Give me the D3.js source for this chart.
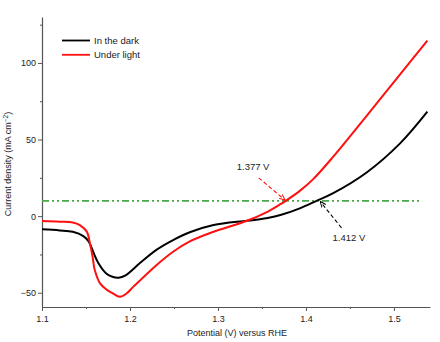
<!DOCTYPE html>
<html>
<head>
<meta charset="utf-8">
<script src="https://cdn.jsdelivr.net/npm/d3@7"></script>
<style>
  html, body { margin: 0; padding: 0; background: #fff; }
  svg text { font-family: "Liberation Sans", Arial, Helvetica, sans-serif; fill: #222; }
</style>
</head>
<body>
<svg id="chart" width="440" height="342"></svg>
<script>
// Linear sweep voltammetry: potential (V vs RHE) and current density (mA cm^-2)
const darkPotential = [1.100, 1.120, 1.135, 1.147, 1.153, 1.158, 1.164, 1.173, 1.180, 1.187, 1.195, 1.211, 1.230, 1.249, 1.268, 1.295, 1.333, 1.355, 1.371, 1.393, 1.412, 1.431, 1.469, 1.507, 1.538];
const darkCurrent   = [-8.6, -9.3, -10.2, -13.0, -16.5, -23.0, -30.6, -37.4, -39.6, -40.2, -38.6, -30.8, -22.0, -15.6, -10.5, -5.8, -3.0, -1.4, 0.7, 5.1, 10.0, 15.0, 28.5, 47.5, 68.2];

const lightPotential = [1.100, 1.120, 1.135, 1.143, 1.151, 1.1545, 1.1575, 1.160, 1.166, 1.173, 1.180, 1.1886, 1.196, 1.204, 1.230, 1.249, 1.268, 1.295, 1.333, 1.355, 1.371, 1.377, 1.393, 1.408, 1.431, 1.469, 1.507, 1.538];
const lightCurrent   = [-3.2, -3.6, -4.1, -5.8, -10.2, -17.8, -26.5, -35.2, -43.9, -47.8, -50.2, -52.6, -50.5, -46.0, -32.0, -23.2, -16.5, -10.2, -3.0, 2.5, 7.8, 10.0, 16.5, 24.0, 38.8, 65.5, 92.5, 114.6];

const seriesNames  = ["In the dark", "Under light"];
const seriesColors = ["#000000", "#ff1010"];

const referenceCurrent = 10;              // mA cm^-2 benchmark line
const onsetPotentials  = [1.412, 1.377];  // dark, light at 10 mA cm^-2

const xMajorTicks = [1.1, 1.2, 1.3, 1.4, 1.5];
const xMinorTicks = [1.15, 1.25, 1.35, 1.45];
const yMajorTicks = [-50, 0, 50, 100];
const yMinorTicks = [-25, 25, 75, 125];

const svg = d3.select("#chart");
const plot = { left: 42, right: 430, top: 17, bottom: 307 };

const x = d3.scaleLinear().domain([1.1, 1.541]).range([plot.left, plot.right]);
const y = d3.scaleLinear().domain([-59.3, 130]).range([plot.bottom, plot.top]);

const axisColor = "#555";

// X axis
const xAxis = svg.append("g").attr("transform", `translate(0,${plot.bottom})`);
xAxis.call(d3.axisBottom(x).tickValues(xMajorTicks).tickFormat(d3.format(".1f")).tickSize(4).tickSizeOuter(0));
xAxis.append("g").call(d3.axisBottom(x).tickValues(xMinorTicks).tickFormat("").tickSize(2).tickSizeOuter(0))
  .select(".domain").remove();
xAxis.selectAll("path.domain").attr("stroke", axisColor).attr("stroke-width", 1.2);
xAxis.selectAll("line").attr("stroke", axisColor);
xAxis.selectAll("text").attr("font-size", 9).attr("dy", "0.9em").style("fill", "#222");

// Y axis
const yAxis = svg.append("g").attr("transform", `translate(${plot.left},0)`);
yAxis.call(d3.axisLeft(y).tickValues(yMajorTicks).tickFormat(d => d < 0 ? "\u2212" + Math.abs(d) : d).tickSize(4).tickSizeOuter(0));
yAxis.append("g").call(d3.axisLeft(y).tickValues(yMinorTicks).tickFormat("").tickSize(2).tickSizeOuter(0))
  .select(".domain").remove();
yAxis.selectAll("path.domain").attr("stroke", axisColor).attr("stroke-width", 1.2);
yAxis.selectAll("line").attr("stroke", axisColor);
yAxis.selectAll("text").attr("font-size", 9).attr("x", -6).style("fill", "#222");

// Axis titles
svg.append("text")
  .attr("x", (plot.left + plot.right) / 2 + 1).attr("y", 336)
  .attr("text-anchor", "middle").attr("font-size", 9)
  .text("Potential (V) versus RHE");

const yTitle = svg.append("text")
  .attr("transform", `translate(11,${(plot.top + plot.bottom) / 2 + 2}) rotate(-90)`)
  .attr("text-anchor", "middle").attr("font-size", 9);
yTitle.append("tspan").text("Current density (mA cm");
yTitle.append("tspan").attr("dy", -3).attr("font-size", 6.5).text("\u22122");
yTitle.append("tspan").attr("dy", 3).text(")");

// 10 mA cm^-2 reference line
svg.append("line")
  .attr("x1", plot.left).attr("x2", x(1.532))
  .attr("y1", y(referenceCurrent)).attr("y2", y(referenceCurrent))
  .attr("stroke", "#4aa84a").attr("stroke-width", 1.6)
  .attr("stroke-dasharray", "7,3,2,3,2,3");

// Curves
const line = d3.line().x(d => x(d[0])).y(d => y(d[1])).curve(d3.curveCatmullRom.alpha(0.5));
const darkData  = darkPotential.map((v, i) => [v, darkCurrent[i]]);
const lightData = lightPotential.map((v, i) => [v, lightCurrent[i]]);

svg.append("path").datum(darkData).attr("d", line)
  .attr("fill", "none").attr("stroke", seriesColors[0]).attr("stroke-width", 2);
svg.append("path").datum(lightData).attr("d", line)
  .attr("fill", "none").attr("stroke", seriesColors[1]).attr("stroke-width", 2);

// Arrow markers
const defs = svg.append("defs");
seriesColors.forEach((c, i) => {
  defs.append("marker")
    .attr("id", "arrow" + i)
    .attr("viewBox", "0 0 10 10").attr("refX", 9).attr("refY", 5)
    .attr("markerWidth", 6).attr("markerHeight", 6)
    .attr("markerUnits", "userSpaceOnUse")
    .attr("orient", "auto")
    .append("path").attr("d", "M0,1 L10,5 L0,9")
    .attr("fill", "none").attr("stroke", c).attr("stroke-width", 1.6);
});

// Onset annotations
const lightTipX = x(onsetPotentials[1]), tipY = y(referenceCurrent);
svg.append("line")
  .attr("x1", lightTipX - 27).attr("y1", tipY - 23)
  .attr("x2", lightTipX - 1).attr("y2", tipY - 1)
  .attr("stroke", seriesColors[1]).attr("stroke-width", 1.1)
  .attr("stroke-dasharray", "4,2.5").attr("marker-end", "url(#arrow1)");
svg.append("text")
  .attr("x", lightTipX - 49).attr("y", tipY - 31)
  .attr("font-size", 9.5).text(onsetPotentials[1].toFixed(3) + " V");

const darkTipX = x(onsetPotentials[0]);
svg.append("line")
  .attr("x1", darkTipX + 25).attr("y1", tipY + 27)
  .attr("x2", darkTipX + 4).attr("y2", tipY + 1)
  .attr("stroke", seriesColors[0]).attr("stroke-width", 1.1)
  .attr("stroke-dasharray", "4,2.5").attr("marker-end", "url(#arrow0)");
svg.append("text")
  .attr("x", darkTipX + 16).attr("y", tipY + 40)
  .attr("font-size", 9.5).text(onsetPotentials[0].toFixed(3) + " V");

// Legend
const legend = svg.append("g").attr("transform", "translate(62,40.5)");
seriesNames.forEach((name, i) => {
  const row = legend.append("g").attr("transform", `translate(0,${i * 14.3})`);
  row.append("line").attr("x1", 0).attr("x2", 28).attr("y1", 0).attr("y2", 0)
    .attr("stroke", seriesColors[i]).attr("stroke-width", 1.8);
  row.append("text").attr("x", 32).attr("y", 3.4).attr("font-size", 9.5).text(name);
});
</script>
</body>
</html>
